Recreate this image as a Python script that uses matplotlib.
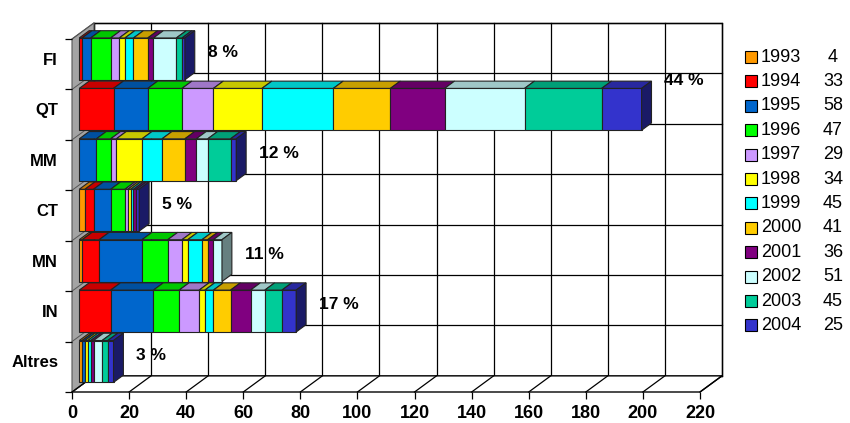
import matplotlib
matplotlib.use('Agg')
import matplotlib.pyplot as plt
from matplotlib.patches import Polygon, Rectangle
import numpy as np

plt.rcParams['font.family'] = ['Liberation Sans', 'DejaVu Sans']

# Categories (top to bottom) and yearly counts per category
categories = ['FI', 'QT', 'MM', 'CT', 'MN', 'IN', 'Altres']
years = ['1993', '1994', '1995', '1996', '1997', '1998',
         '1999', '2000', '2001', '2002', '2003', '2004']

fi = [0, 1, 3, 7, 3, 2, 3, 5, 2, 8, 2, 1]
qt = [0, 12, 12, 12, 11, 17, 25, 20, 19, 28, 27, 14]
mm = [0, 0, 6, 5, 2, 9, 7, 8, 4, 4, 8, 2]
ct = [2, 3, 6, 5, 1, 1, 1, 0, 1, 0, 0, 1]
mn = [1, 6, 15, 9, 5, 2, 5, 2, 2, 3, 0, 0]
in_ = [0, 11, 15, 9, 7, 2, 3, 6, 7, 5, 6, 5]
altres = [1, 0, 1, 0, 0, 1, 1, 0, 1, 3, 2, 2]

year_colors = ['#FF9900', '#FF0000', '#0066CC', '#00FF00', '#CC99FF', '#FFFF00',
               '#00FFFF', '#FFCC00', '#800080', '#CCFFFF', '#00CC99', '#3333CC']

counts = np.array([fi, qt, mm, ct, mn, in_, altres])
row_totals = counts.sum(axis=1)
year_totals = counts.sum(axis=0)
grand_total = counts.sum()

# pseudo-3D geometry (in data units)
XMAX = 220
OX, OY = 7.7, 0.32       # offset of the full depth
D0, D1 = 0.33, 0.78      # bar depth span
GAP = 0.17               # gap between bars within a category band
n_cat = len(categories)


def proj(v, c, d):
    return (v + d * OX, c + d * OY)


def shade(color, f):
    r, g, b = matplotlib.colors.to_rgb(color)
    return (r * f, g * f, b * f)


fig = plt.figure(figsize=(8.5, 4.23), dpi=100)
ax = fig.add_axes([72 / 850, 1 - 392 / 423, 628 / 850, 353 / 423])
ax.set_xlim(0, XMAX)
ax.set_ylim(0, n_cat)
for s in ax.spines.values():
    s.set_visible(False)

# back wall with gridlines
back = [proj(0, 0, 1), proj(XMAX, 0, 1), proj(XMAX, n_cat, 1), proj(0, n_cat, 1)]
ax.add_patch(Polygon(back, closed=True, fc='white', ec='black', lw=1.0,
                     zorder=0, clip_on=False))
for v in range(0, XMAX + 1, 20):
    (x0, y0), (x1, y1) = proj(v, 0, 1), proj(v, n_cat, 1)
    ax.plot([x0, x1], [y0, y1], color='black', lw=0.9, zorder=0.5, clip_on=False)
for c in range(n_cat + 1):
    (x0, y0), (x1, y1) = proj(0, c, 1), proj(XMAX, c, 1)
    ax.plot([x0, x1], [y0, y1], color='black', lw=0.9, zorder=0.5, clip_on=False)

# floor
floor = [proj(0, 0, 0), proj(XMAX, 0, 0), proj(XMAX, 0, 1), proj(0, 0, 1)]
ax.add_patch(Polygon(floor, closed=True, fc='white', ec='black', lw=1.0,
                     zorder=1, clip_on=False))
for v in range(0, XMAX + 1, 20):
    (fx, fy), (bx, by) = proj(v, 0, 0), proj(v, 0, 1)
    ax.plot([fx, bx], [fy, by], color='black', lw=0.9, zorder=1.2, clip_on=False)

# left wall
wall = [proj(0, 0, 0), proj(0, 0, 1), proj(0, n_cat, 1), proj(0, n_cat, 0)]
ax.add_patch(Polygon(wall, closed=True, fc='#a4a4a4', ec='#555555', lw=0.8,
                     zorder=1, clip_on=False))
for c in range(n_cat + 1):
    (fx, fy), (bx, by) = proj(0, c, 0), proj(0, c, 1)
    ax.plot([fx, bx], [fy, by], color='#555555', lw=0.7, zorder=1.1, clip_on=False)

# stacked 3D bars, top row first
bar_centers = []
for i, cat in enumerate(categories):
    lo = n_cat - i - 1 + GAP / 2
    hi = n_cat - i - GAP / 2
    bar_centers.append(proj(0, (lo + hi) / 2, D0)[1])
    left = 0
    last = None
    for j, val in enumerate(counts[i]):
        if val == 0:
            continue
        right = left + val
        col = year_colors[j]
        front = [proj(left, lo, D0), proj(right, lo, D0),
                 proj(right, hi, D0), proj(left, hi, D0)]
        top = [proj(left, hi, D0), proj(right, hi, D0),
               proj(right, hi, D1), proj(left, hi, D1)]
        ax.add_patch(Polygon(front, closed=True, fc=col, ec='#222222', lw=0.8,
                             zorder=3, clip_on=False))
        ax.add_patch(Polygon(top, closed=True, fc=shade(col, 0.78), ec='#222222',
                             lw=0.8, zorder=3, clip_on=False))
        last = (right, col)
        left = right
    right, col = last
    side = [proj(right, lo, D0), proj(right, lo, D1),
            proj(right, hi, D1), proj(right, hi, D0)]
    ax.add_patch(Polygon(side, closed=True, fc=shade(col, 0.5), ec='#222222',
                         lw=0.8, zorder=3, clip_on=False))

# share of each category
label_lift = {'QT': 0.45}
for i, cat in enumerate(categories):
    pct = round(100 * row_totals[i] / grand_total)
    ax.text(row_totals[i] + 10.5, bar_centers[i] + 0.12 + label_lift.get(cat, 0),
            f'{pct} %', fontsize=12.5, fontweight='bold', ha='left', va='center',
            zorder=5)

# axes ticks and labels
ax.set_xticks(np.arange(0, XMAX + 1, 20))
ax.tick_params(axis='x', length=5, width=0.9, pad=4, labelsize=13)
for t in ax.get_xticklabels():
    t.set_fontweight('bold')
ax.set_yticks(bar_centers)
ax.set_yticklabels(categories)
ax.tick_params(axis='y', length=0, pad=10, labelsize=12)
for t in ax.get_yticklabels():
    t.set_fontweight('bold')
ax.set_yticks(np.arange(0, n_cat + 1), minor=True)
ax.tick_params(axis='y', which='minor', length=5, width=0.9)

# legend with yearly totals
for j, year in enumerate(years):
    y = 1 - (57 + j * 24.4) / 423
    fig.patches.append(Rectangle((745 / 850, y - 6 / 423), 12 / 850, 12 / 423,
                                 transform=fig.transFigure, fc=year_colors[j],
                                 ec='black', lw=0.8))
    fig.text(761 / 850, y, year, fontsize=13, va='center', ha='left')
    fig.text(833 / 850, y, str(year_totals[j]), fontsize=13,
             va='center', ha='center')

fig.savefig('out.png', dpi=100, facecolor='white')
plt.close(fig)
